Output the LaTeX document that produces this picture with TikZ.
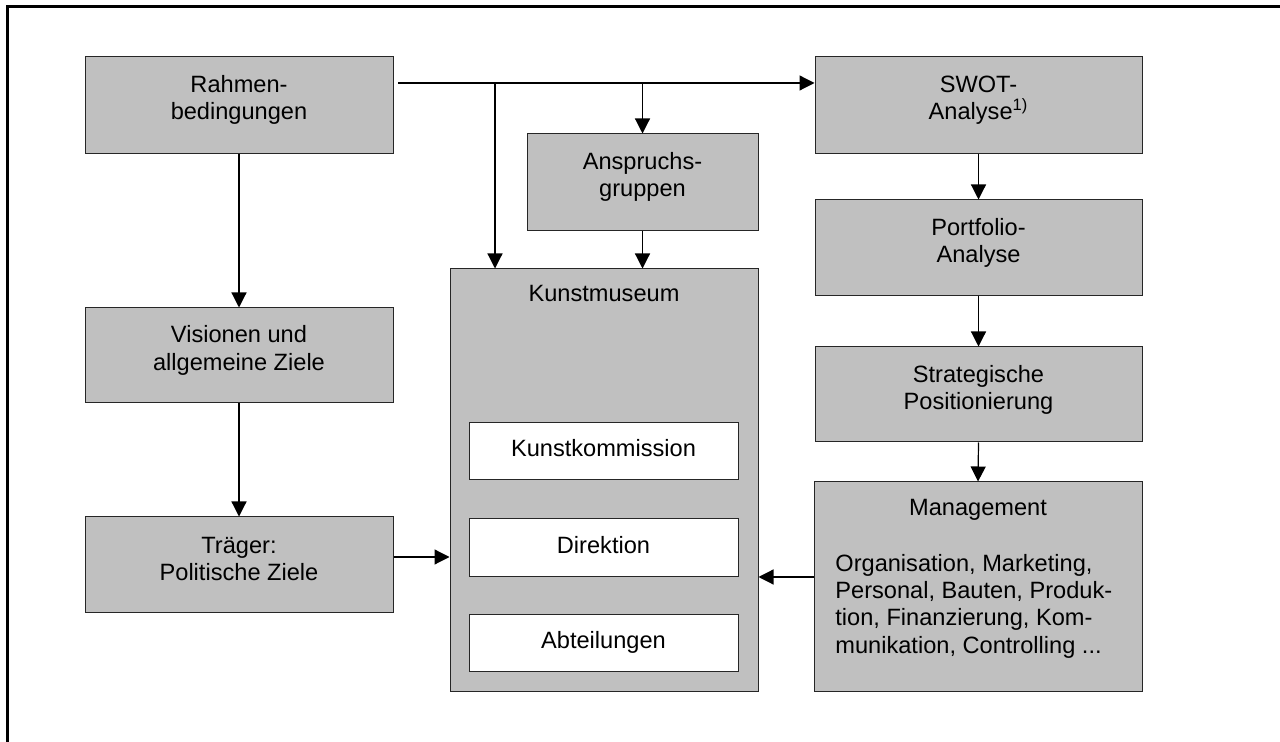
\documentclass[tikz,border=0pt]{standalone}
\usepackage{fontspec}
\setmainfont{Liberation Sans}
\usetikzlibrary{
    arrows.meta,
%    positioning,
}
\definecolor{boxgray}{RGB}{192,192,192}

\begin{document}
\begin{tikzpicture}
        [
            x = 0.5pt, y = -0.5pt,
            gbox/.style = {draw = black!85, line width = 0.5pt, fill = boxgray, rectangle, inner sep = 0pt},
            wbox/.style = {draw = black!85, line width = 0.5pt, fill = white, rectangle, inner sep = 0pt, minimum width = 134.5pt, minimum height = 28.5pt, text height = 0.75em, text depth = 0.2em},
            lbl/.style = {inner sep = 0pt, align = center},
            arr/.style = {line width = 0.6pt, -{Triangle[length = 7.5pt, width = 7.5pt]}},
            every node/.style = {font = \fontsize{11.8}{13.6}\selectfont}
        ]
        \useasboundingbox (0, 0) rectangle (1280, 742);
        \draw[line width = 1.5pt] (7, 742) -- (7, 7) -- (1280, 7);
        % left column
        \node[gbox, minimum width = 154pt, minimum height = 48.5pt] (rahmen) at (239, 105.5) {};
        \node[lbl] (rahmentxt) at (239, 100) {Rahmen-\\bedingungen};
        \node[gbox, minimum width = 154pt, minimum height = 47.5pt] (vision) at (239, 355.5) {};
        \node[lbl] (visiontxt) at (239, 350.5) {Visionen und\\allgemeine Ziele};
        \node[gbox, minimum width = 154pt, minimum height = 48pt] (traeger) at (239, 565) {};
        \node[lbl] (traegertxt) at (239, 559) {Träger:\\Politische Ziele};
        % middle column
        \node[gbox, minimum width = 115.5pt, minimum height = 48.5pt] (ansp) at (642.5, 182.5) {};
        \node[lbl] (ansptxt) at (642.5, 177) {Anspruchs-\\gruppen};
        \node[gbox, minimum width = 154pt, minimum height = 211.5pt] (museum) at (604, 480.5) {};
        \node[lbl, anchor = base] (museumtxt) at (604, 301.5) {Kunstmuseum};
        \node[wbox] (kommission) at (603.5, 451.5) {Kunstkommission};
        \node[wbox, minimum height = 29pt] (direktion) at (603.5, 548) {Direktion};
        \node[wbox] (abteilung) at (603.5, 643.5) {Abteilungen};
        % right column
        \node[gbox, minimum width = 163.5pt, minimum height = 48.5pt] (swot) at (978.5, 105.5) {};
        \node[lbl] (swottxt) at (978.5, 100) {SWOT-\\Analyse\textsuperscript{1)}};
        \node[gbox, minimum width = 163.5pt, minimum height = 48pt] (portfolio) at (978.5, 248) {};
        \node[lbl] (portfoliotxt) at (978.5, 243) {Portfolio-\\Analyse};
        \node[gbox, minimum width = 163.5pt, minimum height = 47.5pt] (strat) at (978.5, 394.5) {};
        \node[lbl] (strattxt) at (978.5, 390) {Strategische\\Positionierung};
        \node[gbox, minimum width = 164pt, minimum height = 105pt] (mgmt) at (978, 587) {};
        \node[lbl, anchor = base] (mgmttxt) at (978, 516) {Management};
        \node[lbl, align = left, anchor = north west] (mgmtlist) at (835, 554)
            {Organisation, Marketing,\\Personal, Bauten, Produk-\\tion, Finanzierung, Kom-\\munikation, Controlling ...};
        % connectors
        \coordinate (bus) at (398, 83);
        \coordinate (tap) at (495, 83);
        \draw[arr] (bus) -- (bus -| swot.west);
        \draw[arr] (tap) -- (tap |- museum.north);
        \draw[arr] (ansp.north |- bus) -- (ansp.north);
        \draw[arr] (ansp.south) -- (ansp.south |- museum.north);
        \draw[arr] (rahmen.south) -- (vision.north);
        \draw[arr] (vision.south) -- (traeger.north);
        \draw[arr] ([yshift = 4pt]traeger.east) -- ([yshift = 4pt]traeger.east -| museum.west);
        \draw[arr] ([yshift = 5pt]mgmt.west) -- ([yshift = 5pt]mgmt.west -| museum.east);
        \draw[arr] (swot.south) -- (portfolio.north);
        \draw[arr] (portfolio.south) -- (strat.north);
        \draw[arr] (strat.south) -- (mgmt.north);
    \end{tikzpicture}
\end{document}
